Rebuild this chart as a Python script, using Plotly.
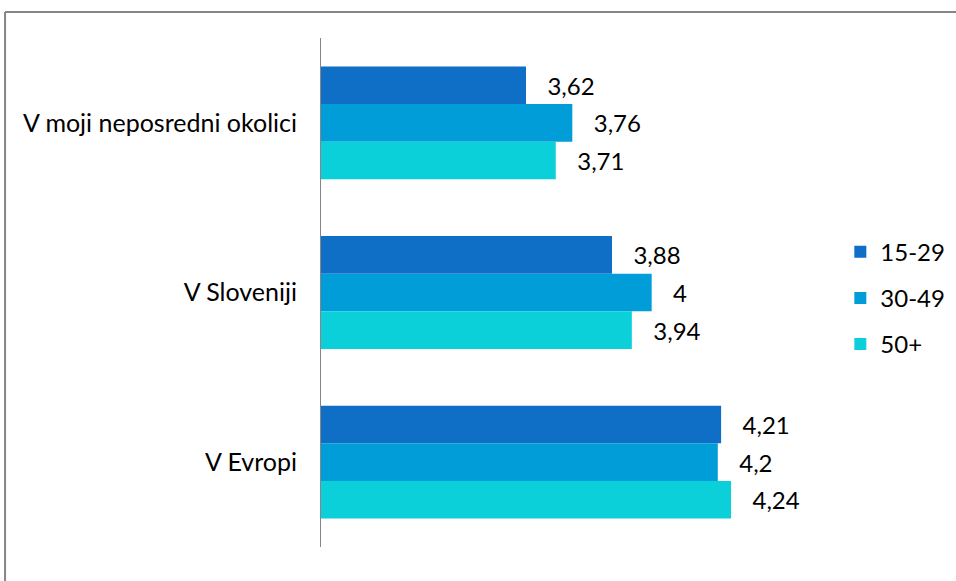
import plotly.graph_objects as go

# data
categories = ["V moji neposredni okolici", "V Sloveniji", "V Evropi"]
groups = ["15-29", "30-49", "50+"]
values_15_29 = [3.62, 3.88, 4.21]
values_30_49 = [3.76, 4.0, 4.20]
values_50 = [3.71, 3.94, 4.24]

colors = ["#0F6FC6", "#009DD9", "#0BD0D9"]
FONT = "Lato"


def fmt(v):
    return f"{v:g}".replace(".", ",")


fig = go.Figure()
for name, vals, col in zip(groups, [values_15_29, values_30_49, values_50], colors):
    fig.add_trace(go.Bar(
        y=categories,
        x=vals,
        name=name,
        orientation="h",
        marker=dict(color=col, line=dict(width=0)),
        text=[fmt(v) for v in vals],
        texttemplate="\u00a0\u00a0\u00a0%{text}",
        textposition="outside",
        textfont=dict(family=FONT, size=24, color="black"),
        cliponaxis=False,
        legendgroup=name,
    ))

# chart frame: only its left and top edges fall inside the window
frame = dict(color="#868686", width=2)
fig.update_layout(
    width=956,
    height=581,
    margin=dict(l=321, r=139, t=38, b=34, autoexpand=False),
    paper_bgcolor="white",
    plot_bgcolor="white",
    barmode="group",
    bargap=0.335,
    bargroupgap=0,
    font=dict(family=FONT, size=24, color="black"),
    legend=dict(
        xref="container", x=0.879, y=0.489, xanchor="left", yanchor="middle",
        font=dict(family=FONT, size=24, color="black"),
        tracegroupgap=12,
        traceorder="grouped",
        itemwidth=30,
    ),
    xaxis=dict(range=[3, 4.5], visible=False, fixedrange=True),
    yaxis=dict(
        autorange="reversed",
        showline=True,
        linecolor="#868686",
        linewidth=1,
        ticks="",
        ticklabelstandoff=18,
        tickfont=dict(family=FONT, size=25, color="black"),
        fixedrange=True,
    ),
    shapes=[
        dict(type="line", xref="paper", yref="paper",
             x0=-0.637, x1=-0.637, y0=-0.2, y1=1.051, line=frame, layer="below"),
        dict(type="line", xref="paper", yref="paper",
             x0=-0.637, x1=1.4, y0=1.051, y1=1.051, line=frame, layer="below"),
    ],
)

# drop the default page margin and scrollbars so the figure sits at the window's corner
fig.write_html(
    "out.html",
    config={"displayModeBar": False},
    post_script="document.body.style.margin='0';document.body.style.overflow='hidden';",
)
